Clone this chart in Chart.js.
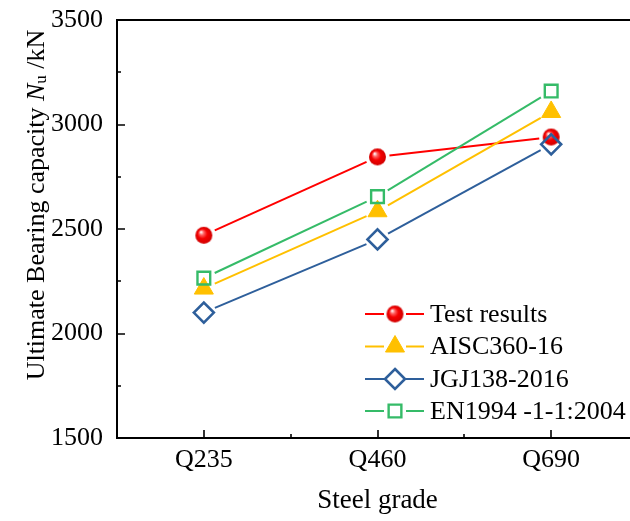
<!DOCTYPE html>
<html>
<head>
<meta charset="utf-8">
<script src="https://cdn.jsdelivr.net/npm/chart.js@4/dist/chart.umd.min.js"></script>
<style>
  html, body { margin: 0; padding: 0; background: #fff; overflow: hidden; }
  #wrap { width: 650px; height: 521px; }
</style>
</head>
<body>
<div id="wrap"><canvas id="chart" width="650" height="521"></canvas></div>
<script>
const grades = ["Q235", "Q460", "Q690"];
const testResults = [2470, 2845, 2940];
const aisc = [2215, 2585, 3060];
const jgj = [2100, 2450, 2905];
const en1994 = [2265, 2655, 3160];
const yMin = 1500;
const yMax = 3500;
const yStep = 500;

const FONT = "'Liberation Serif', 'Times New Roman', serif";

// shaded red ball used as the marker for the test series
function makeSphere(r) {
  const c = document.createElement("canvas");
  const s = 2 * r + 2;
  c.width = c.height = s;
  const g = c.getContext("2d");
  const m = s / 2;
  const grad = g.createRadialGradient(m - r * 0.35, m - r * 0.4, 0.3, m, m, r);
  grad.addColorStop(0, "#ffffff");
  grad.addColorStop(0.25, "#ff6060");
  grad.addColorStop(0.55, "#f50000");
  grad.addColorStop(1, "#d00000");
  g.fillStyle = grad;
  g.beginPath();
  g.arc(m, m, r, 0, Math.PI * 2);
  g.fill();
  return c;
}
const sphere = makeSphere(8.5);

const series = [
  { label: "Test results", data: testResults, color: "#ff0000", style: sphere, radius: 8.5, fill: "#ff0000", width: 2 },
  { label: "AISC360-16", data: aisc, color: "#ffc000", style: "triangle", radius: 11, fill: "#ffc000", width: 1 },
  { label: "JGJ138-2016", data: jgj, color: "#2e5f9b", style: "rectRot", radius: 10, fill: "rgba(0,0,0,0)", width: 2.6 },
  { label: "EN1994 -1-1:2004", data: en1994, color: "#35bb68", style: "rect", radius: 9, fill: "rgba(0,0,0,0)", width: 2.4 }
];

// connecting lines, stopped short of each marker
const gapLines = {
  id: "gapLines",
  beforeDatasetsDraw(chart) {
    const ctx = chart.ctx;
    const gap = 12;
    chart.data.datasets.forEach((ds, i) => {
      const pts = chart.getDatasetMeta(i).data;
      ctx.save();
      ctx.strokeStyle = ds.borderColor;
      ctx.lineWidth = 2;
      for (let k = 0; k < pts.length - 1; k++) {
        const a = pts[k], b = pts[k + 1];
        const dx = b.x - a.x, dy = b.y - a.y;
        const len = Math.hypot(dx, dy);
        if (len <= 2 * gap) continue;
        const ux = dx / len, uy = dy / len;
        ctx.beginPath();
        ctx.moveTo(a.x + ux * gap, a.y + uy * gap);
        ctx.lineTo(b.x - ux * gap, b.y - uy * gap);
        ctx.stroke();
      }
      ctx.restore();
    });
  }
};

// box around the plot plus inward major/minor ticks
const frame = {
  id: "frame",
  afterDatasetsDraw(chart) {
    const { ctx, chartArea: a, scales } = chart;
    ctx.save();
    ctx.strokeStyle = "#000";
    ctx.lineWidth = 2;
    ctx.strokeRect(a.left, a.top, a.right - a.left, a.bottom - a.top);
    ctx.lineWidth = 1.6;
    ctx.beginPath();
    for (let v = yMin; v <= yMax; v += yStep / 2) {
      const y = Math.round(scales.y.getPixelForValue(v));
      const len = (v - yMin) % yStep === 0 ? 8 : 4;
      ctx.moveTo(a.left, y);
      ctx.lineTo(a.left + len, y);
    }
    for (let k = 0; k < grades.length; k++) {
      const x = Math.round(scales.x.getPixelForValue(k));
      ctx.moveTo(x, a.bottom);
      ctx.lineTo(x, a.bottom - 8);
      if (k < grades.length - 1) {
        const xm = Math.round((scales.x.getPixelForValue(k) + scales.x.getPixelForValue(k + 1)) / 2);
        ctx.moveTo(xm, a.bottom);
        ctx.lineTo(xm, a.bottom - 4);
      }
    }
    ctx.stroke();
    ctx.restore();
  }
};

function drawMarker(ctx, s, x, y) {
  if (typeof s.style !== "string") {
    ctx.drawImage(s.style, x - s.style.width / 2, y - s.style.height / 2);
    return;
  }
  const r = s.radius;
  ctx.beginPath();
  if (s.style === "triangle") {
    let rad = 0;
    ctx.moveTo(x + Math.sin(rad) * r, y - Math.cos(rad) * r);
    rad += 2 * Math.PI / 3;
    ctx.lineTo(x + Math.sin(rad) * r, y - Math.cos(rad) * r);
    rad += 2 * Math.PI / 3;
    ctx.lineTo(x + Math.sin(rad) * r, y - Math.cos(rad) * r);
    ctx.closePath();
  } else if (s.style === "rectRot") {
    ctx.moveTo(x, y - r);
    ctx.lineTo(x + r, y);
    ctx.lineTo(x, y + r);
    ctx.lineTo(x - r, y);
    ctx.closePath();
  } else {
    const h = Math.SQRT1_2 * r;
    ctx.rect(x - h, y - h, 2 * h, 2 * h);
  }
  ctx.fillStyle = s.fill;
  ctx.fill();
  ctx.lineWidth = s.width;
  ctx.strokeStyle = s.color;
  ctx.stroke();
}

// legend rows: line - marker - line, then the name
const legendBox = {
  id: "legendBox",
  afterDraw(chart) {
    const ctx = chart.ctx;
    const x0 = 365, xm = 395, x1 = 424, tx = 430;
    const rows = [314, 346.5, 379, 411];
    ctx.save();
    series.forEach((s, i) => {
      const y = rows[i];
      ctx.strokeStyle = s.color;
      ctx.lineWidth = 2;
      ctx.beginPath();
      ctx.moveTo(x0, y);
      ctx.lineTo(xm - 11, y);
      ctx.moveTo(xm + 11, y);
      ctx.lineTo(x1, y);
      ctx.stroke();
      drawMarker(ctx, s, xm, y);
      ctx.fillStyle = "#000";
      ctx.font = "26px " + FONT;
      ctx.textBaseline = "middle";
      ctx.textAlign = "left";
      ctx.fillText(s.label, tx, y + 1);
    });
    ctx.restore();
  }
};

// rotated y title with italic N and subscript u
const yTitle = {
  id: "yTitle",
  afterDraw(chart) {
    const ctx = chart.ctx;
    const parts = [
      { t: "Ultimate Bearing capacity ", f: "26px " + FONT, dy: 0 },
      { t: "N", f: "italic 26px " + FONT, dy: 0 },
      { t: "u", f: "17px " + FONT, dy: 5 },
      { t: " /kN", f: "26px " + FONT, dy: 0 }
    ];
    ctx.save();
    let total = 0;
    parts.forEach(p => { ctx.font = p.f; p.w = ctx.measureText(p.t).width; total += p.w; });
    ctx.translate(37, 205);
    ctx.rotate(-Math.PI / 2);
    ctx.fillStyle = "#000";
    ctx.textBaseline = "middle";
    ctx.textAlign = "left";
    let x = -total / 2;
    parts.forEach(p => {
      ctx.font = p.f;
      ctx.fillText(p.t, x, p.dy);
      x += p.w;
    });
    ctx.restore();
  }
};

new Chart(document.getElementById("chart"), {
  type: "line",
  data: {
    labels: grades,
    datasets: series.map((s, i) => ({
      label: s.label,
      data: s.data,
      borderColor: s.color,
      backgroundColor: s.fill,
      showLine: false,
      pointStyle: s.style,
      pointRadius: s.radius,
      pointHoverRadius: s.radius,
      pointBorderWidth: s.width,
      pointBorderColor: s.color,
      pointBackgroundColor: s.fill,
      order: series.length - i
    }))
  },
  options: {
    responsive: false,
    devicePixelRatio: 1,
    animation: false,
    layout: { autoPadding: false, padding: { top: 20, right: 12, left: 0, bottom: 0 } },
    plugins: {
      legend: { display: false },
      tooltip: { enabled: false }
    },
    scales: {
      x: {
        type: "category",
        offset: true,
        grid: { display: false, drawTicks: false },
        border: { display: false },
        ticks: { color: "#000", font: { family: FONT, size: 26 }, padding: 7 },
        title: {
          display: true,
          text: "Steel grade",
          color: "#000",
          font: { family: FONT, size: 27 },
          padding: { top: 0, bottom: 4 }
        },
        afterFit(scale) { scale.height = 83; }
      },
      y: {
        min: yMin,
        max: yMax,
        grid: { display: false, drawTicks: false },
        border: { display: false },
        ticks: {
          stepSize: yStep,
          color: "#000",
          font: { family: FONT, size: 26, lineHeight: 0.6 },
          padding: 14,
          callback: (v) => String(v)
        },
        afterFit(scale) {
          scale.width = 117;
          scale.paddingTop = 0;
          scale.paddingBottom = 0;
        }
      }
    }
  },
  plugins: [gapLines, frame, legendBox, yTitle]
});
</script>
</body>
</html>
